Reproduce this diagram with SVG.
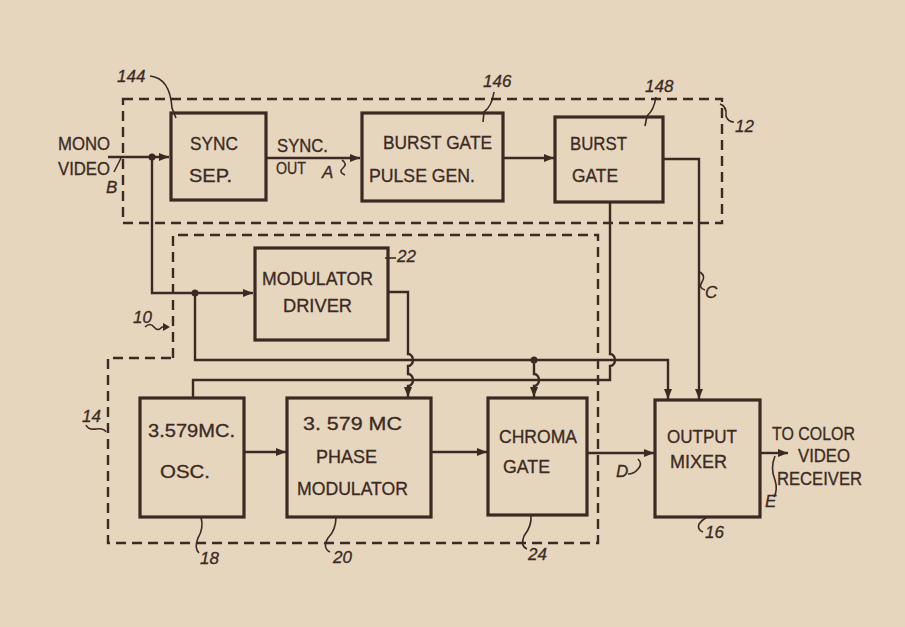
<svg xmlns="http://www.w3.org/2000/svg" width="905" height="627" viewBox="0 0 905 627">
<defs>
<marker id="arr" markerUnits="userSpaceOnUse" markerWidth="10" markerHeight="8" refX="10" refY="4" orient="auto">
<path d="M0,0 L10,4 L0,8 z" fill="#3b2a24"/>
</marker>
<style>
.box{fill:none;stroke:#3b2a24;stroke-width:3.2}
.ln{fill:none;stroke:#3b2a24;stroke-width:2.4}
.dash{fill:none;stroke:#3b2a24;stroke-width:2.4;stroke-dasharray:10 6}
.ld{fill:none;stroke:#3b2a24;stroke-width:1.6}
.dot{fill:#3b2a24}
text{font-family:"Liberation Sans",Arial,sans-serif;fill:#3b2a24;font-size:18px;stroke:#3b2a24;stroke-width:0.3}
.num{font-size:17px;font-style:italic}
.sm{font-size:16.5px}
</style>
</defs>
<rect width="905" height="627" fill="#e6d6bd"/>

<g id="dashed">
<rect class="dash" x="123" y="99" width="599" height="124"/>
<path class="dash" d="M173,358 V235 H598 V543 H108 V358 H173"/>
</g>

<g id="connectors">
<path class="ln" d="M108,157 H169" marker-end="url(#arr)"/>
<path class="ln" d="M152,157 V293 H253" marker-end="url(#arr)"/>
<path class="ln" d="M266,158 H360" marker-end="url(#arr)"/>
<path class="ln" d="M503,158 H554" marker-end="url(#arr)"/>
<path class="ln" d="M663,159 H699 V399" marker-end="url(#arr)"/>
<path class="ln" d="M195,293 V360 H668 V399" marker-end="url(#arr)"/>
<path class="ln" d="M610,202 V354 a5,6 0 0 1 0,12 V380 H193 V398"/>
<path class="ln" d="M388,292 H408 V354 a5,6 0 0 1 0,12 V374 a5,6 0 0 1 0,12 V397" marker-end="url(#arr)"/>
<path class="ln" d="M534,360 V374 a5,6 0 0 1 0,12 V397" marker-end="url(#arr)"/>
<path class="ln" d="M244,452 H286" marker-end="url(#arr)"/>
<path class="ln" d="M431,452 H487" marker-end="url(#arr)"/>
<path class="ln" d="M587,453 H654" marker-end="url(#arr)"/>
<path class="ln" d="M760,453 H788" marker-end="url(#arr)"/>
<circle class="dot" cx="152" cy="157" r="3.5"/>
<circle class="dot" cx="195" cy="293" r="3.5"/>
<circle class="dot" cx="534" cy="360" r="3.5"/>
</g>

<g id="leaders">
<path class="ld" d="M150,76 Q170,78 172,108 L176,118"/>
<path class="ld" d="M494,92 Q492,106 484,112 L483,122"/>
<path class="ld" d="M656,97 Q654,110 647,116 L645,126"/>
<path class="ld" d="M720,104 Q727,106 726,116 Q728,122 734,122"/>
<path class="ld" d="M385,258 H396"/>
<path class="ld" d="M121,158 L114,172"/>
<path class="ld" d="M342,160 Q348,164 343,168 Q338,172 345,175"/>
<path class="ld" d="M700,272 Q706,276 702,282 Q698,288 705,290"/>
<path class="ld" d="M638,459 Q643,464 638,469 Q634,474 628,474"/>
<path class="ld" d="M775,456 Q770,468 775,480 Q778,490 774,497"/>
<path class="ld" d="M145,327 Q150,322 154,327 Q158,332 162,327 L168,327"/>
<path d="M170,327 L163,323 L163,331 z" fill="#3b2a24"/>
<path class="ld" d="M86,425 Q88,430 96,429 Q104,428 106,432"/>
<path class="ld" d="M201,517 Q204,528 198,538 Q194,548 199,553"/>
<path class="ld" d="M336,517 Q336,530 328,538 Q322,548 330,552"/>
<path class="ld" d="M531,515 Q532,526 524,536 Q520,546 527,549"/>
<path class="ld" d="M707,517 Q702,520 699,524 Q697,530 703,532"/>
</g>

<g id="sync-sep">
<rect class="box" x="171" y="113" width="95" height="87"/>
<text x="190" y="150" textLength="48" lengthAdjust="spacingAndGlyphs">SYNC</text>
<text x="189" y="182" textLength="43" lengthAdjust="spacingAndGlyphs">SEP.</text>
</g>
<g id="burst-gate-pulse-gen">
<rect class="box" x="362" y="113" width="141" height="88"/>
<text x="383" y="149" textLength="109" lengthAdjust="spacingAndGlyphs">BURST GATE</text>
<text x="369" y="182" textLength="106" lengthAdjust="spacingAndGlyphs">PULSE GEN.</text>
</g>
<g id="burst-gate">
<rect class="box" x="555" y="117" width="108" height="85"/>
<text x="570" y="150" textLength="57" lengthAdjust="spacingAndGlyphs">BURST</text>
<text x="572" y="182" textLength="46" lengthAdjust="spacingAndGlyphs">GATE</text>
</g>
<g id="modulator-driver">
<rect class="box" x="255" y="248" width="133" height="92"/>
<text x="262" y="285" textLength="111" lengthAdjust="spacingAndGlyphs">MODULATOR</text>
<text x="283" y="312" textLength="69" lengthAdjust="spacingAndGlyphs">DRIVER</text>
</g>
<g id="osc">
<rect class="box" x="140" y="398" width="104" height="119"/>
<text x="148" y="437" textLength="87" lengthAdjust="spacingAndGlyphs">3.579MC.</text>
<text x="160" y="478" textLength="50" lengthAdjust="spacingAndGlyphs">OSC.</text>
</g>
<g id="phase-modulator">
<rect class="box" x="287" y="398" width="144" height="119"/>
<text x="303" y="430" textLength="99" lengthAdjust="spacingAndGlyphs">3. 579 MC</text>
<text x="316" y="463" textLength="61" lengthAdjust="spacingAndGlyphs">PHASE</text>
<text x="297" y="495" textLength="111" lengthAdjust="spacingAndGlyphs">MODULATOR</text>
</g>
<g id="chroma-gate">
<rect class="box" x="488" y="398" width="99" height="117"/>
<text x="499" y="443" textLength="78" lengthAdjust="spacingAndGlyphs">CHROMA</text>
<text x="503" y="473" textLength="47" lengthAdjust="spacingAndGlyphs">GATE</text>
</g>
<g id="output-mixer">
<rect class="box" x="655" y="400" width="105" height="117"/>
<text x="667" y="443" textLength="70" lengthAdjust="spacingAndGlyphs">OUTPUT</text>
<text x="670" y="468" textLength="57" lengthAdjust="spacingAndGlyphs">MIXER</text>
</g>

<g id="labels">
<text x="58" y="150" textLength="52" lengthAdjust="spacingAndGlyphs">MONO</text>
<text x="58" y="175" textLength="52" lengthAdjust="spacingAndGlyphs">VIDEO</text>
<text class="num" x="106" y="193">B</text>
<text x="277" y="152" textLength="51" lengthAdjust="spacingAndGlyphs">SYNC.</text>
<text class="sm" x="276" y="174" textLength="30" lengthAdjust="spacingAndGlyphs">OUT</text>
<text class="num" x="322" y="178">A</text>
<text class="num" x="705" y="298">C</text>
<text class="num" x="616" y="477">D</text>
<text class="num" x="765" y="507">E</text>
<text x="772" y="440" textLength="83" lengthAdjust="spacingAndGlyphs">TO COLOR</text>
<text x="798" y="462" textLength="52" lengthAdjust="spacingAndGlyphs">VIDEO</text>
<text x="777" y="485" textLength="85" lengthAdjust="spacingAndGlyphs">RECEIVER</text>
<text class="num" x="117" y="82">144</text>
<text class="num" x="483" y="87">146</text>
<text class="num" x="645" y="92">148</text>
<text class="num" x="735" y="132">12</text>
<text class="num" x="397" y="262">22</text>
<text class="num" x="133" y="323">10</text>
<text class="num" x="82" y="422">14</text>
<text class="num" x="200" y="564">18</text>
<text class="num" x="333" y="563">20</text>
<text class="num" x="528" y="560">24</text>
<text class="num" x="705" y="538">16</text>
</g>
</svg>
